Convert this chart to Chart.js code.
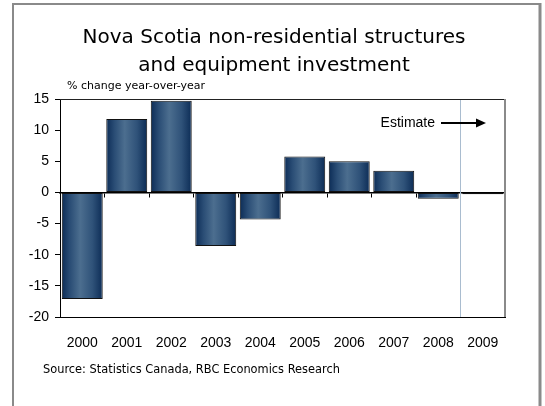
<!DOCTYPE html>
<html>
<head>
<title>Nova Scotia investment</title>
<script src="https://cdn.jsdelivr.net/npm/chart.js@4.4.0/dist/chart.umd.min.js"></script>
<style>
  html, body {margin: 0; padding: 0; background: #fff;}
  #wrap {width: 545px; height: 406px;}
</style>
</head>
<body>
<div id="wrap"><canvas id="invest" width="545" height="406"></canvas></div>
<script>

// yearly % change, 2009 is the estimate
var years = ['2000', '2001', '2002', '2003', '2004', '2005', '2006', '2007', '2008', '2009'];
var pctChange = [-17.1, 11.8, 14.7, -8.6, -4.35, 5.75, 5.0, 3.5, -1.0, -0.3];
var yTicks = [-20, -15, -10, -5, 0, 5, 10, 15];

var titleLines = ['Nova Scotia non-residential structures', 'and equipment investment'];
var unitsNote = '% change year-over-year';
var sourceNote = 'Source: Statistics Canada, RBC Economics Research';
var estimateNote = 'Estimate';

var BAR_PCT = 0.92;

// shaded steel-blue fill, dark at both edges of each bar
function barFill(c) {
  var chart = c.chart;
  var xs = chart.scales.x;
  if (!xs || c.dataIndex === undefined) return '#2c4f75';
  var mid = xs.getPixelForValue(c.dataIndex);
  var half = xs.width / years.length * BAR_PCT / 2;
  if (!isFinite(mid) || !isFinite(half) || half <= 0) return '#2c4f75';
  var g = chart.ctx.createLinearGradient(mid - half, 0, mid + half, 0);
  g.addColorStop(0, '#0c2c56');
  g.addColorStop(0.2, '#2a4d75');
  g.addColorStop(0.45, '#4c6e8f');
  g.addColorStop(0.75, '#2f5279');
  g.addColorStop(1, '#0c2c56');
  return g;
}

// frame, headings, notes and the estimate marker
var decor = {
  id: 'decor',
  beforeDatasetsDraw: function(chart) {
    var ctx = chart.ctx, a = chart.chartArea, xs = chart.scales.x;
    ctx.save();
    // estimate divider between 2008 and 2009
    var xe = Math.round(xs.getPixelForValue(years.length - 1.5)) - 0.5;
    ctx.strokeStyle = '#a9bccf';
    ctx.lineWidth = 1;
    ctx.beginPath();
    ctx.moveTo(xe, a.top);
    ctx.lineTo(xe, a.bottom);
    ctx.stroke();
    ctx.restore();
  },
  afterDraw: function(chart) {
    var ctx = chart.ctx, a = chart.chartArea;
    ctx.save();

    // outer frame
    ctx.strokeStyle = '#8a8a8a';
    ctx.lineWidth = 2;
    ctx.beginPath();
    ctx.moveTo(13, 410);
    ctx.lineTo(13, 4);
    ctx.lineTo(540, 4);
    ctx.stroke();
    ctx.lineWidth = 3;
    ctx.beginPath();
    ctx.moveTo(540, 3);
    ctx.lineTo(540, 410);
    ctx.stroke();

    // plot box top and right
    ctx.lineWidth = 1;
    ctx.strokeStyle = '#222';
    ctx.beginPath();
    ctx.moveTo(a.left, a.top + 0.5);
    ctx.lineTo(a.right, a.top + 0.5);
    ctx.stroke();
    ctx.strokeStyle = '#8a8a8a';
    ctx.lineWidth = 2;
    ctx.beginPath();
    ctx.moveTo(a.right, a.top);
    ctx.lineTo(a.right, a.bottom);
    ctx.stroke();

    // title
    ctx.fillStyle = '#000';
    ctx.textAlign = 'center';
    ctx.textBaseline = 'alphabetic';
    ctx.font = '20px "DejaVu Sans"';
    ctx.fillText(titleLines[0], 274, 43);
    ctx.fillText(titleLines[1], 274, 71);

    // units and source
    ctx.textAlign = 'left';
    ctx.textBaseline = 'middle';
    ctx.font = '11px "DejaVu Sans"';
    ctx.fillText(unitsNote, 67, 86);
    ctx.font = '11.4px "DejaVu Sans"';
    ctx.fillText(sourceNote, 43, 370);

    // estimate label and arrow
    ctx.textAlign = 'right';
    ctx.font = '14px "Liberation Sans"';
    ctx.fillText(estimateNote, 435, 123);
    ctx.strokeStyle = '#000';
    ctx.lineWidth = 2;
    ctx.beginPath();
    ctx.moveTo(441, 123);
    ctx.lineTo(478, 123);
    ctx.stroke();
    ctx.beginPath();
    ctx.moveTo(486, 123);
    ctx.lineTo(476, 118.5);
    ctx.lineTo(476, 127.5);
    ctx.closePath();
    ctx.fill();

    ctx.restore();
  }
};

new Chart(document.getElementById('invest'), {
  type: 'bar',
  data: {
    labels: years,
    datasets: [{
      data: pctChange,
      backgroundColor: barFill,
      borderColor: '#111',
      borderWidth: 1,
      borderSkipped: false,
      barPercentage: BAR_PCT,
      categoryPercentage: 1,
      xAxisID: 'x',
      yAxisID: 'y'
    }]
  },
  options: {
    responsive: false,
    animation: false,
    events: [],
    layout: {padding: {left: 13, right: 40, top: 99, bottom: 49}},
    plugins: {
      legend: {display: false},
      tooltip: {enabled: false},
      title: {display: false}
    },
    scales: {
      x: {
        type: 'category',
        position: 'bottom',
        offset: true,
        grid: {display: false},
        border: {display: true, color: '#000', width: 1},
        ticks: {
          color: '#000',
          padding: 10,
          maxRotation: 0,
          font: {family: '"Liberation Sans"', size: 14}
        },
        afterFit: function(s) { s.height = 40; }
      },
      // zero line with category tick marks
      x2: {
        type: 'category',
        labels: years,
        position: {y: 0},
        offset: true,
        grid: {offset: true, drawOnChartArea: false, drawTicks: true, tickLength: 4, color: '#000'},
        border: {display: true, color: '#000', width: 1.5},
        ticks: {display: false},
        afterFit: function(s) { s.height = 0; }
      },
      y: {
        min: yTicks[0],
        max: yTicks[yTicks.length - 1],
        afterBuildTicks: function(s) {
          s.ticks = yTicks.map(function(v) { return {value: v}; });
        },
        grid: {drawOnChartArea: false, drawTicks: true, tickLength: 5, color: '#000'},
        border: {display: true, color: '#000', width: 1},
        ticks: {
          color: '#000',
          padding: 6,
          font: {family: '"Liberation Sans"', size: 14}
        },
        afterFit: function(s) { s.width = 47; }
      }
    }
  },
  plugins: [decor]
});

</script>
</body>
</html>
